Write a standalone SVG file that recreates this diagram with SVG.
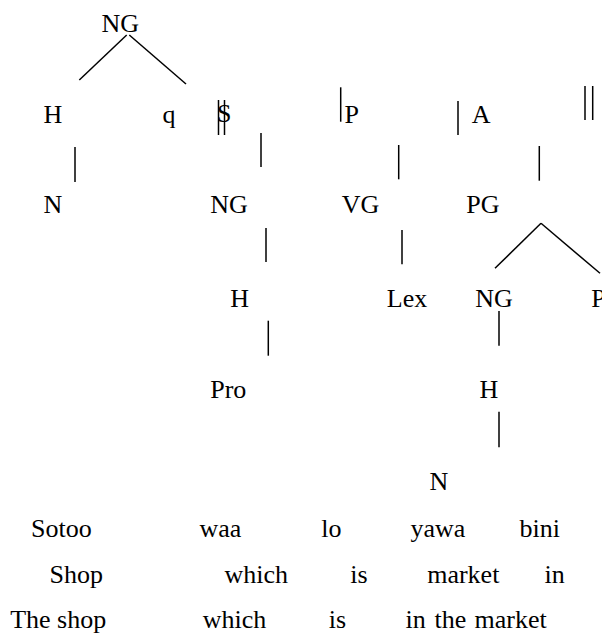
<svg xmlns="http://www.w3.org/2000/svg" width="602" height="637" viewBox="0 0 602 637">
<style>
text{font-family:"Liberation Serif","Times New Roman",serif;font-size:26px;fill:#000}
line{stroke:#000;stroke-width:1.5}
</style>
<rect width="602" height="637" fill="#fff"/>
<g id="connectors">
<line x1="126.7" y1="35" x2="79.3" y2="80"/>
<line x1="129.3" y1="35" x2="186" y2="84"/>
<line x1="75" y1="147" x2="75" y2="182"/>
<line x1="218.5" y1="100" x2="218.5" y2="135"/>
<line x1="224.5" y1="100" x2="224.5" y2="135"/>
<line x1="261" y1="133" x2="261" y2="167"/>
<line x1="266" y1="228" x2="266" y2="262"/>
<line x1="268.3" y1="320.7" x2="268.3" y2="355.7"/>
<line x1="340.7" y1="87.3" x2="340.7" y2="121.7"/>
<line x1="398.7" y1="145" x2="398.7" y2="179.3"/>
<line x1="402" y1="230" x2="402" y2="264.3"/>
<line x1="458" y1="101" x2="458" y2="135"/>
<line x1="539.3" y1="146" x2="539.3" y2="180.7"/>
<line x1="585" y1="86" x2="585" y2="120"/>
<line x1="592.7" y1="86" x2="592.7" y2="120"/>
<line x1="541" y1="223.3" x2="495" y2="268.3"/>
<line x1="541" y1="223.3" x2="600" y2="273.3"/>
<line x1="499" y1="311" x2="499" y2="345.7"/>
<line x1="499" y1="411.7" x2="499" y2="447.3"/>
</g>
<g id="n-ng-root"><text x="101.5" y="32">NG</text></g>
<g id="n-h1"><text x="43.5" y="122.7">H</text></g>
<g id="n-q"><text x="162.5" y="122.7">q</text></g>
<g id="n-s"><text x="217" y="122.3">S</text></g>
<g id="n-p"><text x="344.5" y="122.7">P</text></g>
<g id="n-a"><text x="471.8" y="122.7">A</text></g>
<g id="n-n1"><text x="43.5" y="213">N</text></g>
<g id="n-ng2"><text x="210.2" y="213">NG</text></g>
<g id="n-vg"><text x="341.8" y="213">VG</text></g>
<g id="n-pg"><text x="466.2" y="213">PG</text></g>
<g id="n-h2"><text x="230.2" y="306.7">H</text></g>
<g id="n-lex"><text x="386.8" y="306.7">Lex</text></g>
<g id="n-ng3"><text x="475.2" y="306.7">NG</text></g>
<g id="n-p2"><text x="591.2" y="306.7">P</text></g>
<g id="n-pro"><text x="210.2" y="398.3">Pro</text></g>
<g id="n-h3"><text x="479.5" y="398.3">H</text></g>
<g id="n-n2"><text x="429.5" y="490">N</text></g>
<g id="gloss-1">
<text x="31" y="537">Sotoo</text>
<text x="199.5" y="537">waa</text>
<text x="321.2" y="537">lo</text>
<text x="410.5" y="537">yawa</text>
<text x="519.5" y="537">bini</text>
</g>
<g id="gloss-2">
<text x="49.5" y="583">Shop</text>
<text x="224.5" y="583">which</text>
<text x="350.2" y="583">is</text>
<text x="427.2" y="583">market</text>
<text x="544.5" y="583">in</text>
</g>
<g id="gloss-3">
<text x="10.2" y="628">The shop</text>
<text x="202.8" y="628">which</text>
<text x="328.8" y="628">is</text>
<text x="405.5" y="628">in</text>
<text x="434.5" y="628">the</text>
<text x="474.5" y="628">market</text>
</g>
</svg>
